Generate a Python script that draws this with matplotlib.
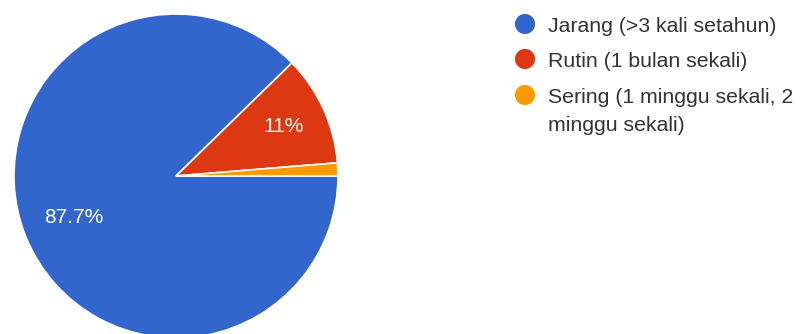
import numpy as np
import matplotlib
matplotlib.use("Agg")
import matplotlib.pyplot as plt

plt.rcParams['font.family'] = ['Liberation Sans', 'DejaVu Sans']

categories = ["Jarang (>3 kali setahun)", "Rutin (1 bulan sekali)",
              "Sering (1 minggu sekali, 2\nminggu sekali)"]
values = [87.7, 11.0, 1.3]
colors = ["#3366cc", "#dc3912", "#ff9900"]
# radial position of each percentage label (None = no label)
label_dist = [0.68, 0.73, None]

W, H = 803, 334
fig = plt.figure(figsize=(W / 100, H / 100), dpi=100)

# pie: centre (176, 176) px, radius 162 px
cx, cy, r = 176, 176, 162
ax = fig.add_axes([(cx - r) / W, (H - cy - r) / H, 2 * r / W, 2 * r / H])
wedges, _ = ax.pie(values, colors=colors, startangle=0, counterclock=False,
                   radius=1, wedgeprops=dict(edgecolor="white", linewidth=1.2))
ax.set_xlim(-1, 1)
ax.set_ylim(-1, 1)
ax.set_aspect("equal")
ax.axis("off")

for w, v, d in zip(wedges, values, label_dist):
    if d is None:
        continue
    ang = np.deg2rad((w.theta1 + w.theta2) / 2)
    ax.text(d * np.cos(ang), d * np.sin(ang), f"{v:g}%", color="white",
            fontsize=15, ha="center", va="center")

# legend drawn in pixel coordinates
lax = fig.add_axes([0, 0, 1, 1])
lax.set_xlim(0, W)
lax.set_ylim(H, 0)
lax.axis("off")
legend_y = [24, 59, 95]
line_step = 28
for y, c, name in zip(legend_y, colors, categories):
    lax.scatter([525], [y], s=210, color=c, edgecolors="none")
    for i, line in enumerate(name.split("\n")):
        lax.text(548, y + 8 + i * line_step, line, fontsize=15.3,
                 color="#333333", ha="left", va="baseline")

fig.savefig("out.png", dpi=100, facecolor="white")
